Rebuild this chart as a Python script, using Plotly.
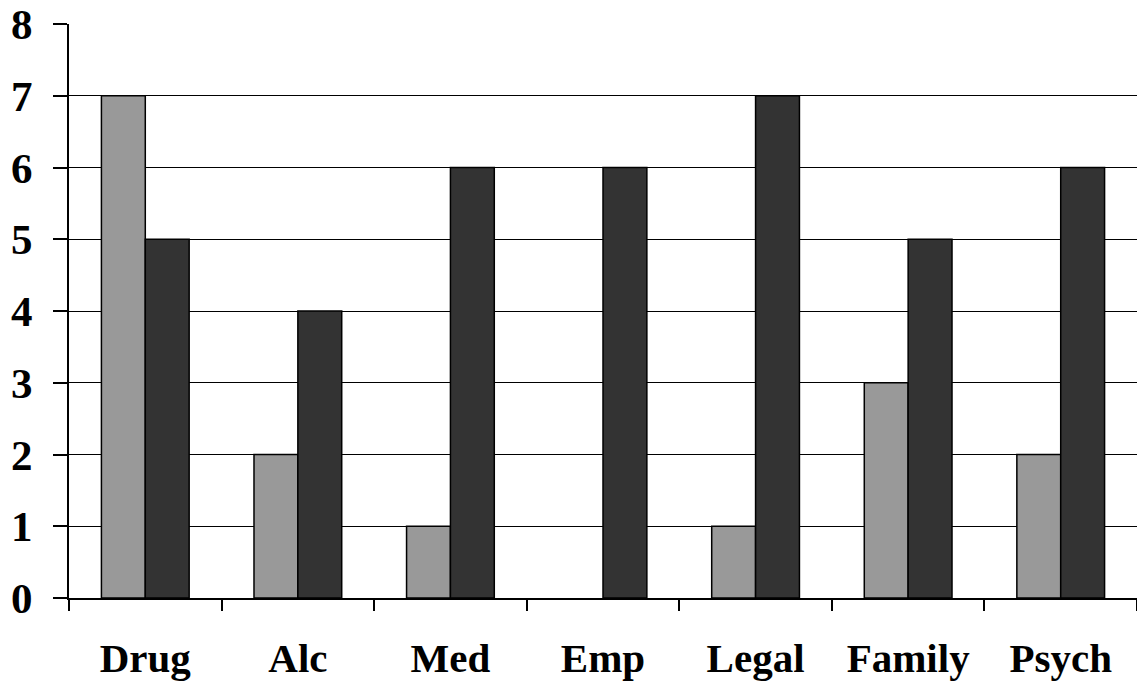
import plotly.graph_objects as go

# Problem-area categories and counts for the two groups
categories = ["Drug", "Alc", "Med", "Emp", "Legal", "Family", "Psych"]
group_a = [7, 2, 1, 0, 1, 3, 2]
group_b = [5, 4, 6, 6, 7, 5, 6]
y_ticks = [0, 1, 2, 3, 4, 5, 6, 7, 8]

FONT = "Liberation Serif"


def outline_widths(values, width=1.5):
    # empty bars get no outline so nothing is drawn on the baseline
    return [0 if v == 0 else width for v in values]


fig = go.Figure()
fig.add_trace(go.Bar(
    x=categories, y=group_a, name="Group A",
    marker=dict(color="#999999", line=dict(color="black", width=outline_widths(group_a))),
))
fig.add_trace(go.Bar(
    x=categories, y=group_b, name="Group B",
    marker=dict(color="#333333", line=dict(color="black", width=outline_widths(group_b))),
))

fig.update_layout(
    width=1137, height=686,
    margin=dict(l=69, r=0, t=24, b=88),
    paper_bgcolor="white", plot_bgcolor="white",
    barmode="group", bargap=0.425, bargroupgap=0,
    showlegend=False,
    font=dict(family=FONT, color="black"),
)

fig.update_xaxes(
    type="category",
    range=[-0.5, 6.5],
    showline=True, linecolor="black", linewidth=2,
    ticks="outside", tickson="boundaries", ticklen=11, tickwidth=2, tickcolor="black",
    tickfont=dict(family=FONT, size=41, color="black", weight="bold"),
    ticklabelstandoff=23,
    showgrid=False, zeroline=False,
)

fig.update_yaxes(
    range=[0, 8],
    tickvals=y_ticks,
    showline=True, linecolor="black", linewidth=2,
    ticks="outside", ticklen=14, tickwidth=2, tickcolor="black",
    tickfont=dict(family=FONT, size=43, color="black", weight="bold"),
    ticklabelstandoff=12,
    showgrid=True, gridcolor="black", gridwidth=1,
    zeroline=False,
)

fig.write_html("out.html")
